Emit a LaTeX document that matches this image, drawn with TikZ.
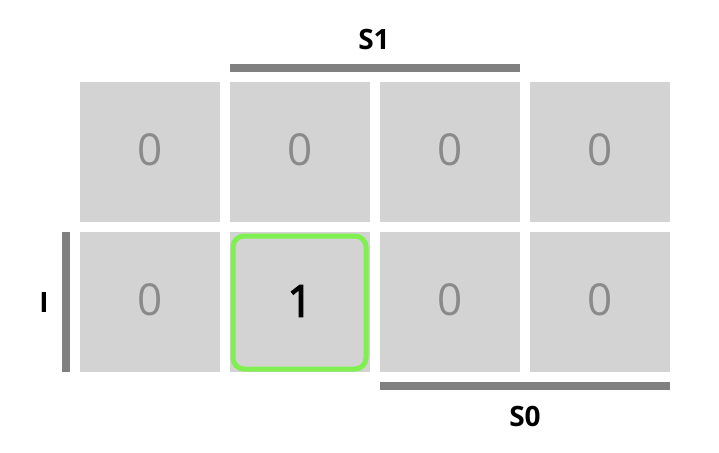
\documentclass[tikz,border=0pt]{standalone}
\usepackage{fontspec}
\setmainfont{Open Sans}
\newfontfamily\semifont[FakeBold=3]{Open Sans}
\definecolor{cellgray}{HTML}{D3D3D3}
\definecolor{bargray}{HTML}{808080}
\definecolor{zerogray}{HTML}{8A8A8A}
\definecolor{hitgreen}{HTML}{80F050}
\tikzset{
  cell/.style={fill=cellgray, draw=none, minimum size=140pt, inner sep=0pt},
  zero/.style={font=\fontsize{44}{44}\selectfont, text=zerogray, inner sep=0pt},
  bar/.style={fill=bargray, draw=none},
  varlabel/.style={font=\fontsize{28}{28}\bfseries, inner sep=0pt}
}
\begin{document}
\begin{tikzpicture}[x=1pt, y=-1pt]
    \useasboundingbox (0,0) rectangle (719,452);

    % Karnaugh-Zellen
    \node[cell] (a0) at (150,152) {};
    \node[cell] (a1) at (300,152) {};
    \node[cell] (a2) at (450,152) {};
    \node[cell] (a3) at (600,152) {};
    \node[cell] (b0) at (150,302) {};
    \node[cell] (b1) at (300,302) {};
    \node[cell] (b2) at (450,302) {};
    \node[cell] (b3) at (600,302) {};

    % Werte
    \foreach \c in {a0,a1,a2,a3,b0,b2,b3}
        \node[zero] at ([yshift=2pt]\c) {0};

    % Gruppe
    \draw[hitgreen, line width=5pt, rounded corners=11pt] (233,236) rectangle (366,369);
    \node[font=\fontsize{44}{44}\semifont] (one) at ([yshift=1pt]b1) {1};

    % Variablenbalken
    \fill[bar] (230,64) rectangle (520,72);
    \fill[bar] (380,382) rectangle (670,390);
    \fill[bar] (62,232) rectangle (70,372);

    % Beschriftungen
    \node[varlabel] (s1) at (374,39) {S1};
    \node[varlabel] (s0) at (525,416) {S0};
    \node[varlabel] (i) at (44,303) {I};
\end{tikzpicture}
\end{document}
